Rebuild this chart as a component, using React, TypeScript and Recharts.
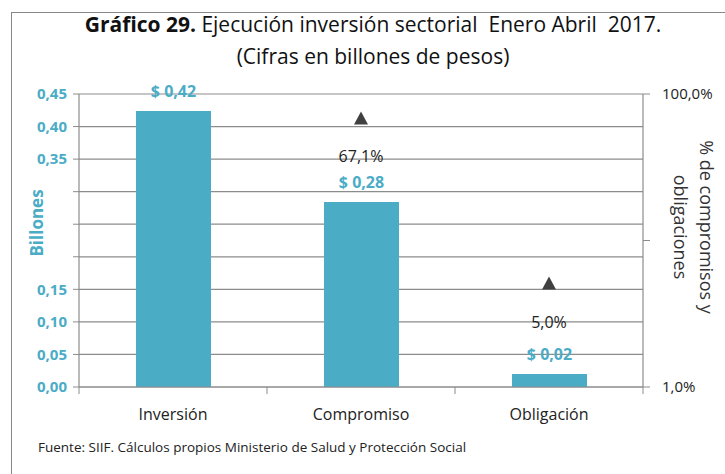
import React from 'react';
import { ComposedChart, Bar, Line, XAxis, YAxis, CartesianGrid } from 'recharts';

// Valores
const categorias = ['Inversión', 'Compromiso', 'Obligación'];
const billones = [0.424, 0.284, 0.02];
const etiquetasBillones = ['$ 0,42', '$ 0,28', '$ 0,02'];
const porcentaje: (number | null)[] = [null, 67.1, 5.0];
const etiquetasPct = ['', '67,1%', '5,0%'];

const ticksIzq = [0, 0.05, 0.1, 0.15, 0.2, 0.25, 0.3, 0.35, 0.4, 0.45];
const ocultosIzq = [0.2, 0.25, 0.3];
const ticksDer = [1, 10, 100];

const data = categorias.map((c, i) => ({
  cat: c,
  valor: billones[i],
  pct: porcentaje[i],
  etiqueta: etiquetasBillones[i],
  etiquetaPct: etiquetasPct[i],
}));

const TEAL = '#4BACC6';
const FONT = '"Liberation Sans Narrow", "Open Sans", sans-serif';
const GRID = '#8c8c8c';

const CatTick = (props: any) => {
  const { x, y, payload, index } = props;
  const off = payload.offset || 0;
  return (
    <g>
      <line x1={x - off} x2={x - off} y1={y - 8} y2={y - 1} stroke={GRID} />
      {index === categorias.length - 1 && (
        <line x1={x + off} x2={x + off} y1={y - 8} y2={y - 1} stroke={GRID} />
      )}
      <text x={x} y={y + 25} textAnchor="middle" fontSize={16} fill="#222" fontFamily={FONT}>
        {payload.value}
      </text>
    </g>
  );
};

const BarLabel = (props: any) => {
  const { x, y, width, index } = props;
  return (
    <text x={x + width / 2} y={y - 14} textAnchor="middle" fontSize={16} fontWeight="bold" fill={TEAL} fontFamily={FONT}>
      {etiquetasBillones[index]}
    </text>
  );
};

const Triangulo = (props: any) => {
  const { cx, cy, value, index } = props;
  if (value == null || cx == null || cy == null) return <g key={index} />;
  return (
    <g key={index}>
      <path d={`M${cx},${cy - 8} L${cx + 7},${cy + 5} L${cx - 7},${cy + 5} Z`} fill="#404040" />
      <text x={cx} y={cy + 43} textAnchor="middle" fontSize={16} fill="#222" fontFamily={FONT}>
        {etiquetasPct[index]}
      </text>
    </g>
  );
};

const BillonesLabel = (props: any) => {
  const { viewBox } = props;
  const cx = viewBox.x + 36;
  const cy = 223;
  return (
    <text x={cx} y={cy} transform={`rotate(-90 ${cx} ${cy})`} textAnchor="middle" dominantBaseline="central"
      fontSize={17} fontWeight="bold" fill={TEAL} fontFamily={FONT}>
      Billones
    </text>
  );
};

const PctLabel = (props: any) => {
  const { viewBox } = props;
  const x1 = viewBox.x + 64;
  const x2 = viewBox.x + 38;
  const cy = 227;
  return (
    <g>
      <text x={x1} y={cy} transform={`rotate(90 ${x1} ${cy})`} textAnchor="middle" dominantBaseline="central"
        fontSize={18} fill="#333" fontFamily={FONT}>
        % de compromisos y
      </text>
      <text x={x2} y={cy} transform={`rotate(90 ${x2} ${cy})`} textAnchor="middle" dominantBaseline="central"
        fontSize={18} fill="#333" fontFamily={FONT}>
        obligaciones
      </text>
    </g>
  );
};

const fmtIzq = (v: number) => {
  if (ocultosIzq.some((o) => Math.abs(o - v) < 1e-6)) return '';
  return v.toFixed(2).replace('.', ',');
};
const fmtDer = (v: number) => (v === 10 ? '' : `${v.toFixed(1).replace('.', ',')}%`);

export default function App() {
  return (
    <div style={{ position: 'absolute', left: 0, top: 0, width: 725, height: 474, background: '#fff', fontFamily: FONT }}>
      <div style={{ position: 'absolute', left: 11, top: 12, right: 0, bottom: 0, borderLeft: '1.5px solid #888', borderTop: '1.5px solid #888' }} />
      <div style={{ position: 'absolute', left: 0, width: 746, top: 8, textAlign: 'center', fontSize: 21, color: '#111', lineHeight: '32px' }}>
        <b>Gráfico 29.</b> Ejecución inversión sectorial&nbsp; Enero Abril&nbsp; 2017.
        <br />
        (Cifras en billones de pesos)
      </div>
      <div style={{ position: 'absolute', left: 38, top: 438, fontSize: 13.5, color: '#222' }}>
        Fuente: SIIF. Cálculos propios Ministerio de Salud y Protección Social
      </div>
      <div style={{ position: 'absolute', left: 0, top: 0 }}>
        <ComposedChart width={725} height={474} data={data} margin={{ top: 94, right: 0, left: 0, bottom: 57 }} barSize={75}>
          <CartesianGrid yAxisId="left" vertical={false} stroke={GRID} strokeWidth={1.2} ticks={ticksIzq} />
          <XAxis dataKey="cat" height={30} axisLine={{ stroke: GRID, strokeWidth: 1.2 }} tickLine={false} tick={<CatTick />} interval={0} />
          <YAxis yAxisId="left" width={79} domain={[0, 0.45]} ticks={ticksIzq} tickFormatter={fmtIzq}
            axisLine={{ stroke: GRID, strokeWidth: 1.2 }} tickLine={{ stroke: GRID }} tickSize={6} tickMargin={6}
            tick={{ fill: TEAL, fontSize: 15, fontWeight: 'bold', fontFamily: FONT }} interval={0}
            label={<BillonesLabel />} />
          <YAxis yAxisId="right" orientation="right" width={82} scale="log" domain={[1, 100]} ticks={ticksDer}
            tickFormatter={fmtDer} allowDataOverflow axisLine={{ stroke: GRID, strokeWidth: 1.2 }} tickLine={{ stroke: GRID }}
            tickSize={7} tickMargin={12} tick={{ fill: '#222', fontSize: 15, fontFamily: FONT }} interval={0}
            label={<PctLabel />} />
          <Bar yAxisId="left" dataKey="valor" fill={TEAL} isAnimationActive={false} label={<BarLabel />} />
          <Line yAxisId="right" dataKey="pct" stroke="none" strokeWidth={0} dot={<Triangulo />} activeDot={false}
            isAnimationActive={false} connectNulls={false} />
        </ComposedChart>
      </div>
    </div>
  );
}
